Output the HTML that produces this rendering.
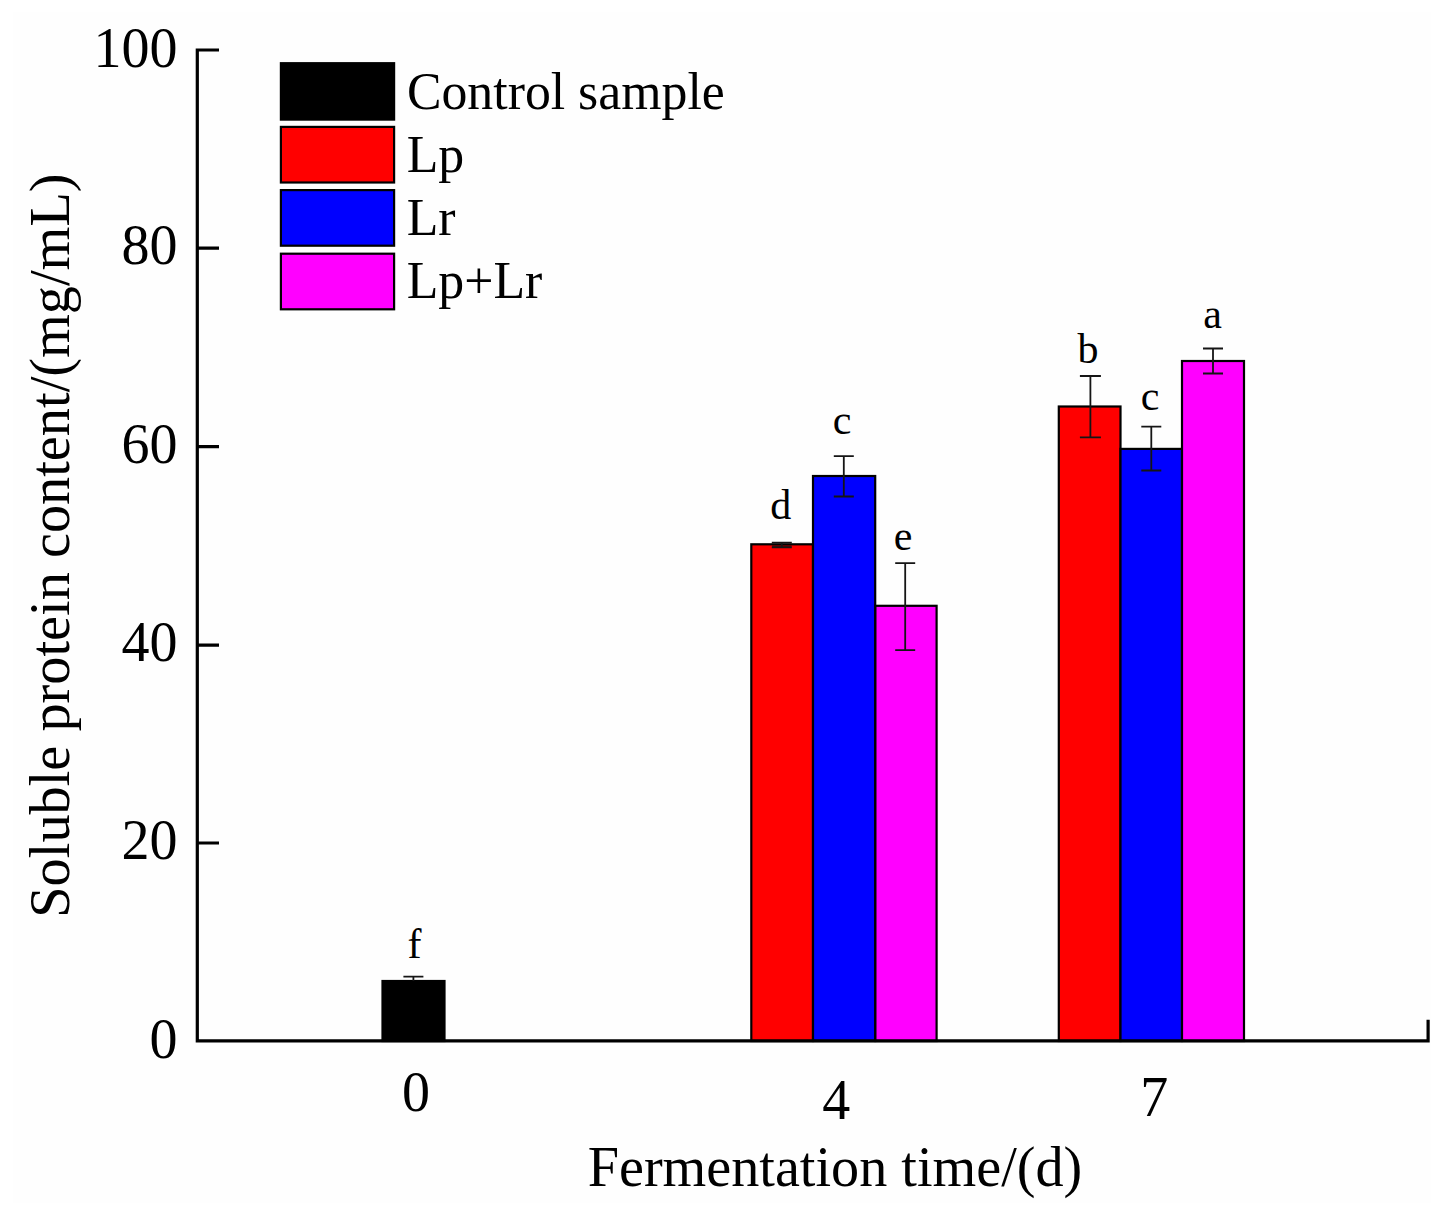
<!DOCTYPE html>
<html>
<head>
<meta charset="utf-8">
<style>
html,body{margin:0;padding:0;background:#fff;}
body{width:1453px;height:1223px;overflow:hidden;}
svg{display:block;}
text{font-family:"Liberation Serif",serif;fill:#000;}
</style>
</head>
<body>
<svg width="1453" height="1223" viewBox="0 0 1453 1223">
<rect x="0" y="0" width="1453" height="1223" fill="#fff"/>
<rect x="13" y="12" width="1418" height="1191" fill="#fefefe"/>

<!-- bars group 0 -->
<g stroke="#000" stroke-width="2.2">
<rect x="382.5" y="981" width="62" height="60" fill="#000"/>
<!-- group 4 -->
<rect x="751.3" y="544.3" width="61.7" height="496.7" fill="#f00"/>
<rect x="813" y="476" width="62.2" height="565" fill="#00f"/>
<rect x="875.4" y="605.8" width="61.2" height="435.2" fill="#f0f"/>
<!-- group 7 -->
<rect x="1058.8" y="406.5" width="61.7" height="634.5" fill="#f00"/>
<rect x="1120.5" y="448.9" width="61.5" height="592.1" fill="#00f"/>
<rect x="1182" y="361" width="62" height="680" fill="#f0f"/>
</g>

<!-- error bars -->
<rect x="772" y="545" width="19.6" height="2" fill="#5a0000"/>
<g stroke="#151515" stroke-width="1.8" fill="none">
<path d="M413.4 976.7V981M403.4 976.7H423.4"/>
<path d="M781.8 542.6V547.4M771.8 542.6H791.8M771.8 547.4H791.8"/>
<path d="M843.8 456.2V496.5M833.8 456.2H853.8M833.8 496.5H853.8"/>
<path d="M905.2 563.2V650.2M895.2 563.2H915.2M895.2 650.2H915.2"/>
<path d="M1090.4 376V437.4M1079.9 376H1100.9M1079.9 437.4H1100.9"/>
<path d="M1151.3 426.7V470.5M1141.3 426.7H1161.3M1141.3 470.5H1161.3"/>
<path d="M1213 348.5V373.5M1203.0 348.5H1223.0M1203.0 373.5H1223.0"/>
</g>

<!-- axes -->
<g stroke="#000" stroke-width="3.2" fill="none" stroke-linecap="butt" stroke-linejoin="miter">
<path d="M219 50H197.3V1040.9H1428.1V1019.8"/>
<path d="M197.3 248.1H219M197.3 446.6H219M197.3 645.1H219M197.3 843H219"/>
</g>

<!-- y tick labels -->
<g font-size="56" text-anchor="end">
<text x="177.5" y="66.5">100</text>
<text x="177.5" y="263.6">80</text>
<text x="177.5" y="462.8">60</text>
<text x="177.5" y="661">40</text>
<text x="177.5" y="859.4">20</text>
<text x="177.5" y="1057.5">0</text>
</g>

<!-- x tick labels -->
<g font-size="56" text-anchor="middle">
<text x="415.9" y="1110.5">0</text>
<text x="836.2" y="1118.5">4</text>
<text x="1154.3" y="1116.4">7</text>
</g>

<!-- axis titles -->
<text x="587.7" y="1186.4" font-size="56.2">Fermentation time/(d)</text>
<text transform="translate(69 917.7) rotate(-90)" font-size="56.3">Soluble protein content/(mg/mL)</text>

<!-- significance letters -->
<g font-size="42" text-anchor="middle">
<text x="414.6" y="958">f</text>
<text x="780.7" y="518.6">d</text>
<text x="842.2" y="433.5">c</text>
<text x="903.1" y="550">e</text>
<text x="1088" y="363.4">b</text>
<text x="1150" y="409.8">c</text>
<text x="1212.6" y="328.2">a</text>
</g>

<!-- legend -->
<g stroke="#000" stroke-width="2.2">
<rect x="280.9" y="63.2" width="113.2" height="56.4" fill="#000"/>
<rect x="280.9" y="126.9" width="113.2" height="55.6" fill="#f00"/>
<rect x="280.9" y="190.1" width="113.2" height="55.6" fill="#00f"/>
<rect x="280.9" y="253.7" width="113.2" height="55.6" fill="#f0f"/>
</g>
<g font-size="51.8">
<text x="406.9" y="109.1">Control sample</text>
<text x="406.7" y="171.6">Lp</text>
<text x="406.7" y="235.3">Lr</text>
<text x="406.7" y="298.2">Lp+Lr</text>
</g>
</svg>
</body>
</html>
